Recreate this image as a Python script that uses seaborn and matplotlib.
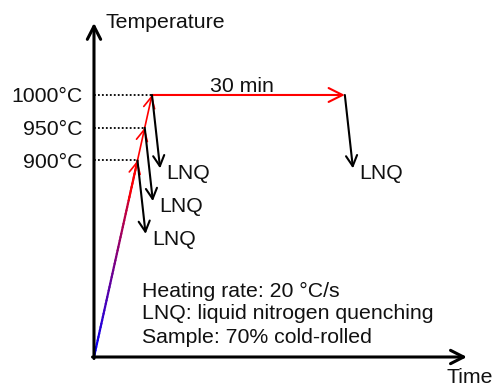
import numpy as np
import pandas as pd
import matplotlib
matplotlib.use("Agg")
import matplotlib.pyplot as plt
from matplotlib.collections import LineCollection
import seaborn as sns

# Heat-treatment schedule (schematic, time axis not to scale)
levels = [900, 950, 1000]                      # quench temperatures, deg C
level_labels = ["900°C", "950°C", "1000°C"]
heating_rate = 20                              # deg C / s
start_temp = 600                               # temperature at the origin of the sketch
hold_temp = 1000
hold_span = 66.5                               # drawn length of the 30 min hold
quench_dt, quench_dT = 2.8, 112                # direction of the quench arrows
notes = ["Heating rate: 20 °C/s",
         "LNQ: liquid nitrogen quenching",
         "Sample: 70% cold-rolled"]

sns.set_theme(style="white")
plt.rcParams["font.family"] = ["Liberation Sans", "DejaVu Sans"]
FS = 15.3

fig = plt.figure(figsize=(4.93, 3.87), dpi=100)
ax = fig.add_axes([0, 0, 1, 1])
ax.set_xlim(-32.41, 137.59)
ax.set_ylim(554.2, 1145.0)
ax.patch.set_alpha(0)

# times at which each level is reached during heating
level_times = [(T - start_temp) / heating_rate for T in levels]
t_peak = (hold_temp - start_temp) / heating_rate
t_hold_end = t_peak + hold_span

# temperature / time axes drawn as arrows
axis_kw = dict(arrowstyle="->,head_length=0.47,head_width=0.24",
               color="black", lw=2.2, shrinkA=0, shrinkB=0, mutation_scale=20)
ax.annotate("", xy=(128.6, start_temp), xytext=(-0.5, start_temp), arrowprops=axis_kw)
ax.annotate("", xy=(0, 1110), xytext=(0, start_temp - 2.3), arrowprops=axis_kw)
for s in ax.spines.values():
    s.set_visible(False)
ax.spines["left"].set_position(("data", 0))
ax.set_xticks([])
ax.set_yticks(levels, level_labels, fontsize=FS, color="#111111")
ax.tick_params(axis="y", length=0, pad=8)
ax.grid(False)

ax.text(4.1, 1102.3, "Temperature", fontsize=FS, va="baseline", ha="left", color="#111111")
ax.text(121.5, 561.0, "Time", fontsize=FS, va="baseline", ha="left", color="#111111")

# dotted guides from the temperature axis to each level
for T, t in zip(levels, level_times):
    sns.lineplot(x=[0, t], y=[T, T], color="black", lw=1.3,
                 linestyle=(0, (1, 1.2)), ax=ax)

# heating ramp: blue-to-red gradient up to the first level
t0, t1 = 0.0, level_times[0]
ts = np.linspace(t0, t1, 60)
Ts = start_temp + heating_rate * ts
pts = np.column_stack([ts, Ts]).reshape(-1, 1, 2)
segs = np.concatenate([pts[:-1], pts[1:]], axis=1)
frac = np.linspace(0, 1, len(segs))
cols = np.column_stack([frac, np.zeros_like(frac), 1 - frac, np.ones_like(frac)])
ax.add_collection(LineCollection(segs, colors=cols, linewidths=1.6, capstyle="round"))

ramp_kw = dict(arrowstyle="->,head_length=0.4,head_width=0.2",
               color="red", lw=1.2, shrinkA=0, shrinkB=0, mutation_scale=20)
ax.annotate("", xy=(t1, levels[0]), xytext=(t1 - 3, levels[0] - 60), arrowprops=ramp_kw)
for (ta, Ta), (tb, Tb) in zip(zip(level_times[:-1], levels[:-1]),
                              zip(level_times[1:], levels[1:])):
    ax.annotate("", xy=(tb, Tb), xytext=(ta, Ta), arrowprops=ramp_kw)

# isothermal hold
hold_kw = dict(ramp_kw, lw=1.5, arrowstyle="->,head_length=0.5,head_width=0.25")
ax.annotate("", xy=(t_hold_end, hold_temp), xytext=(t_peak, hold_temp), arrowprops=hold_kw)
ax.annotate("30 min", xy=((t_peak + t_hold_end) / 2, hold_temp), xytext=(-5, 2.5),
            textcoords="offset points", ha="center", va="baseline",
            fontsize=FS, color="#111111")

# liquid nitrogen quenching arrows
quench_kw = dict(arrowstyle="->,head_length=0.38,head_width=0.2",
                 color="black", lw=1.5, shrinkA=0, shrinkB=0, mutation_scale=20)
starts = list(zip(level_times, levels)) + [(t_hold_end, hold_temp)]
for ts_, Ts_ in starts:
    tip = (ts_ + quench_dt, Ts_ - quench_dT)
    ax.annotate("", xy=tip, xytext=(ts_, Ts_), arrowprops=quench_kw)
    ax.annotate("LNQ", xy=tip, xytext=(4.5, -3.8), textcoords="offset points",
                ha="left", va="center", fontsize=FS, color="#111111")

# notes
for txt, yb in zip(notes, [692.1, 658.0, 621.8]):
    ax.text(16.5, yb, txt, fontsize=FS, ha="left", va="baseline", color="#111111")

fig.savefig("out.png", dpi=100, facecolor="white")
